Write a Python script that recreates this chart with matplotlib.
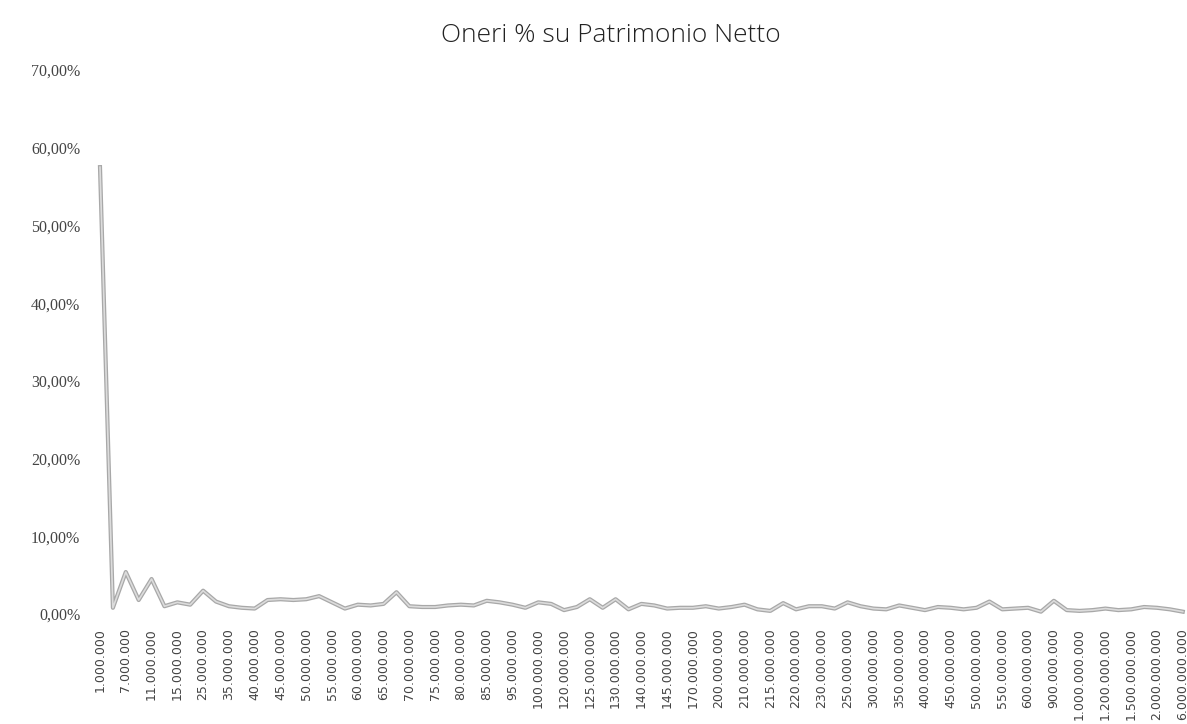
import matplotlib.pyplot as plt
import numpy as np

# labelled categories (Excel shows every second one)
tick_labels = ['1.000.000', '7.000.000', '11.000.000', '15.000.000', '25.000.000',
               '35.000.000', '40.000.000', '45.000.000', '50.000.000', '55.000.000',
               '60.000.000', '65.000.000', '70.000.000', '75.000.000', '80.000.000',
               '85.000.000', '95.000.000', '100.000.000', '120.000.000', '125.000.000',
               '130.000.000', '140.000.000', '145.000.000', '170.000.000', '200.000.000',
               '210.000.000', '215.000.000', '220.000.000', '230.000.000', '250.000.000',
               '300.000.000', '350.000.000', '400.000.000', '450.000.000', '500.000.000',
               '550.000.000', '600.000.000', '900.000.000', '1.000.000.000', '1.200.000.000',
               '1.500.000.000', '2.000.000.000', '6.000.000.000']

# oneri % su patrimonio netto, one value per category
oneri_pct = [57.5, 0.8, 5.4, 1.8, 4.5, 1.0, 1.5, 1.2, 3.0, 1.6,
             1.0, 0.8, 0.7, 1.8, 1.9, 1.8, 1.9, 2.3, 1.5, 0.7,
             1.2, 1.1, 1.3, 2.8, 1.0, 0.9, 0.9, 1.1, 1.2, 1.1,
             1.7, 1.5, 1.2, 0.8, 1.5, 1.3, 0.5, 0.9, 1.9, 0.8,
             1.9, 0.6, 1.3, 1.1, 0.7, 0.8, 0.8, 1.0, 0.7, 0.9,
             1.2, 0.6, 0.4, 1.4, 0.6, 1.0, 1.0, 0.7, 1.5, 1.0,
             0.7, 0.6, 1.1, 0.8, 0.5, 0.9, 0.8, 0.6, 0.8, 1.6,
             0.6, 0.7, 0.8, 0.3, 1.7, 0.5, 0.4, 0.5, 0.7, 0.5,
             0.6, 0.9, 0.8, 0.6, 0.3]

y_ticks = [0, 10, 20, 30, 40, 50, 60, 70]

W, H = 1187, 724
fig = plt.figure(figsize=(W / 100, H / 100), dpi=100)
step = 12.89
left_px = 100 - step / 2
ax = fig.add_axes([left_px / W, (H - 614) / H, (W - left_px) / W, (614 - 70) / H])

x = np.arange(len(oneri_pct))
ax.plot(x, oneri_pct, color='#a8a8a8', lw=3.0, solid_joinstyle='round')
ax.plot(x, oneri_pct, color='#dcdcdc', lw=1.2, solid_joinstyle='round')

ax.set_xlim(-0.5, -0.5 + (W - left_px) / step)
ax.set_ylim(0, 70)
ax.set_yticks(y_ticks)
ax.set_yticklabels(['%d,00%%' % v for v in y_ticks], fontsize=11.5, color='#444444',
                   family='Liberation Serif')
ax.set_xticks(np.arange(0, len(oneri_pct), 2))
ax.set_xticklabels(tick_labels, rotation=90, fontsize=9, color='#444444')
ax.tick_params(length=0)
ax.tick_params(axis='x', pad=10)
ax.tick_params(axis='y', pad=9.5)
for s in ax.spines.values():
    s.set_visible(False)

fig.suptitle('Oneri % su Patrimonio Netto', x=0.515, y=0.968, fontsize=19,
             color='#222222', family='Open Sans', fontweight='light')
fig.savefig('out.png', dpi=100)
